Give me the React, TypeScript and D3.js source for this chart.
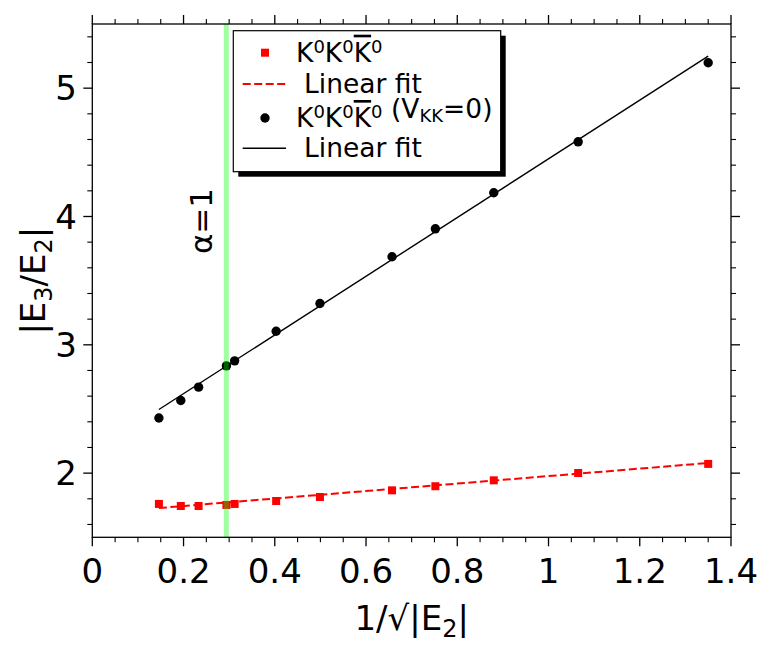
import React from 'react';
import * as d3 from 'd3';

const xValues = [0.146, 0.194, 0.233, 0.294, 0.312, 0.403, 0.499, 0.657, 0.752, 0.880, 1.065, 1.350];
const redValues = [1.760, 1.744, 1.744, 1.752, 1.760, 1.783, 1.814, 1.866, 1.898, 1.944, 2.001, 2.072];
const blackValues = [2.430, 2.566, 2.670, 2.836, 2.875, 3.106, 3.322, 3.686, 3.904, 4.185, 4.582, 5.198];
const redFit = { intercept: 1.6855, slope: 0.2915 };
const blackFit = { intercept: 2.162, slope: 2.287 };
const fitRange = [0.146, 1.35];
const alphaOneX = 0.2937;
const xTicks = [0, 0.2, 0.4, 0.6, 0.8, 1.0, 1.2, 1.4];
const xTickLabels = ['0', '0.2', '0.4', '0.6', '0.8', '1', '1.2', '1.4'];
const yTicks = [2, 3, 4, 5];
const yTickLabels = ['2', '3', '4', '5'];

const FONT = '"DejaVu Sans", sans-serif';

export default function App() {
  const left = 92.3, right = 731, top = 24, bottom = 537.3;
  const x = d3.scaleLinear().domain([0, 1.4]).range([left, right]);
  const y = d3.scaleLinear().domain([1.5, 5.5]).range([bottom, top]);

  const xMinor = d3.range(0, 1.4001, 0.05).filter(v => !xTicks.some(t => Math.abs(t - v) < 1e-6));
  const yMinor = d3.range(1.6, 5.4001, 0.2).filter(v => !yTicks.some(t => Math.abs(t - v) < 1e-6));

  const redPts = xValues.map((xv, i) => [xv, redValues[i]] as [number, number]);
  const blackPts = xValues.map((xv, i) => [xv, blackValues[i]] as [number, number]);

  const line = d3.line<[number, number]>().x(d => x(d[0])).y(d => y(d[1]));
  const fitLine = (f: { intercept: number; slope: number }) =>
    line(fitRange.map(xv => [xv, f.intercept + f.slope * xv] as [number, number])) || '';

  const majorLen = 9, minorLen = 5;
  const sq = 8;
  const tickFont = 34;

  // legend geometry
  const lg = { x: 233.3, y: 30.7, w: 267.4, h: 141 };
  const rowY = [52.7, 84, 118, 148.3];
  const symX = 265;
  const lineX0 = 242.7, lineX1 = 286;
  const legendFont = 26.5;
  const sup = 9;
  const supSize = legendFont * 0.68;

  const K0 = (key: string) => (
    <React.Fragment key={key}>
      <tspan>K</tspan>
      <tspan dy={-sup} fontSize={supSize}>0</tspan>
      <tspan dy={sup}>K</tspan>
      <tspan dy={-sup} fontSize={supSize}>0</tspan>
      <tspan dy={sup} style={{ textDecoration: 'overline' }}>K</tspan>
      <tspan dy={-sup} fontSize={supSize}>0</tspan>
      <tspan dy={sup}>{''}</tspan>
    </React.Fragment>
  );

  return (
    <svg width={764} height={648} style={{ position: 'absolute', left: 0, top: 0, background: '#fff' }}
      fontFamily={FONT}>
      <rect x={0} y={0} width={764} height={648} fill="#fff" />

      {/* red series */}
      <path d={fitLine(redFit)} fill="none" stroke="#ff0000" strokeWidth={2} strokeDasharray="8,3.5" />
      {redPts.map((p, i) => (
        <rect key={'r' + i} x={x(p[0]) - sq / 2} y={y(p[1]) - sq / 2} width={sq} height={sq} fill="#ff0000" />
      ))}

      {/* black series */}
      <path d={fitLine(blackFit)} fill="none" stroke="#000" strokeWidth={1.4} />
      {blackPts.map((p, i) => (
        <circle key={'b' + i} cx={x(p[0])} cy={y(p[1])} r={4.7} fill="#000" />
      ))}

      {/* alpha = 1 line */}
      <line x1={x(alphaOneX)} x2={x(alphaOneX)} y1={top} y2={bottom} stroke="#00ff00" strokeOpacity={0.37} strokeWidth={5} />
      <text transform={`translate(212,221) rotate(-90)`} textAnchor="middle" fontSize={31} fill="#000">α=1</text>

      {/* frame */}
      <rect x={left} y={top} width={right - left} height={bottom - top} fill="none" stroke="#000" strokeWidth={1.3} />

      {/* x ticks bottom & top */}
      {xTicks.map((t, i) => (
        <g key={'xt' + i}>
          <line x1={x(t)} x2={x(t)} y1={bottom} y2={bottom + majorLen} stroke="#000" strokeWidth={1.3} />
          <line x1={x(t)} x2={x(t)} y1={top} y2={top - majorLen} stroke="#000" strokeWidth={1.3} />
          <text x={x(t)} y={583} textAnchor="middle" fontSize={tickFont} fill="#000">{xTickLabels[i]}</text>
        </g>
      ))}
      {xMinor.map((t, i) => (
        <g key={'xm' + i}>
          <line x1={x(t)} x2={x(t)} y1={bottom} y2={bottom + minorLen} stroke="#000" strokeWidth={1.1} />
          <line x1={x(t)} x2={x(t)} y1={top} y2={top - minorLen} stroke="#000" strokeWidth={1.1} />
        </g>
      ))}

      {/* y ticks left & right */}
      {yTicks.map((t, i) => (
        <g key={'yt' + i}>
          <line x1={left} x2={left - majorLen} y1={y(t)} y2={y(t)} stroke="#000" strokeWidth={1.3} />
          <line x1={right} x2={right + majorLen} y1={y(t)} y2={y(t)} stroke="#000" strokeWidth={1.3} />
          <text x={77} y={y(t)} dy="0.36em" textAnchor="end" fontSize={tickFont} fill="#000">{yTickLabels[i]}</text>
        </g>
      ))}
      {yMinor.map((t, i) => (
        <g key={'ym' + i}>
          <line x1={left} x2={left - minorLen} y1={y(t)} y2={y(t)} stroke="#000" strokeWidth={1.1} />
          <line x1={right} x2={right + minorLen} y1={y(t)} y2={y(t)} stroke="#000" strokeWidth={1.1} />
        </g>
      ))}

      {/* axis labels */}
      <text x={(left + right) / 2} y={630} textAnchor="middle" fontSize={tickFont} fill="#000">
        <tspan>1/√|E</tspan>
        <tspan dy={7} fontSize={24}>2</tspan>
        <tspan dy={-7}>|</tspan>
      </text>
      <text transform={`translate(45,${(top + bottom) / 2}) rotate(-90)`} textAnchor="middle" fontSize={tickFont} fill="#000">
        <tspan>|E</tspan>
        <tspan dy={7} fontSize={24}>3</tspan>
        <tspan dy={-7}>/E</tspan>
        <tspan dy={7} fontSize={24}>2</tspan>
        <tspan dy={-7}>|</tspan>
      </text>

      {/* legend */}
      <rect x={lg.x + 5} y={lg.y + 5} width={lg.w} height={lg.h} fill="#000" />
      <rect x={lg.x} y={lg.y} width={lg.w} height={lg.h} fill="#fff" stroke="#000" strokeWidth={1.2} />

      <rect x={symX - sq / 2} y={rowY[0] - sq / 2} width={sq} height={sq} fill="#ff0000" />
      <text x={296} y={rowY[0] + 9} fontSize={legendFont} fill="#000">{K0('a')}</text>

      <line x1={lineX0} x2={lineX1} y1={rowY[1]} y2={rowY[1]} stroke="#ff0000" strokeWidth={2} strokeDasharray="8,3.5" />
      <text x={304} y={rowY[1] + 9} fontSize={legendFont} fill="#000">Linear fit</text>

      <circle cx={symX} cy={rowY[2]} r={4.7} fill="#000" />
      <text x={296} y={rowY[2] + 9} fontSize={legendFont} fill="#000">
        {K0('b')}
        <tspan> (V</tspan>
        <tspan dy={4} fontSize={supSize}>KK</tspan>
        <tspan dy={-4}>=0)</tspan>
      </text>

      <line x1={lineX0} x2={lineX1} y1={rowY[3]} y2={rowY[3]} stroke="#000" strokeWidth={1.5} />
      <text x={304} y={rowY[3] + 9} fontSize={legendFont} fill="#000">Linear fit</text>
    </svg>
  );
}
